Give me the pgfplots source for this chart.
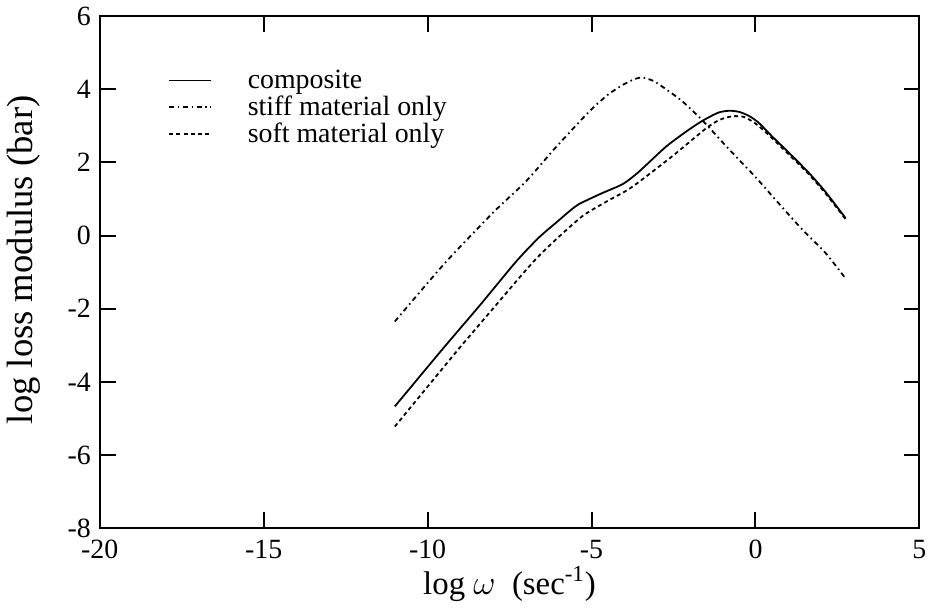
\documentclass[border=0pt]{standalone}
\usepackage{fontspec}
\setmainfont{Liberation Serif}
\usepackage{pgfplots}
\pgfplotsset{compat=1.18}
\begin{document}
\begin{tikzpicture}
  \begin{axis}[
    scale only axis,
    width=412pt, height=257.5pt,
    xmin=-20, xmax=5, ymin=-8, ymax=6,
    xtick={-20,-15,-10,-5,0,5},
    xticklabels={-20,-15,-10,-5,0,5},
    ytick={-8,-6,-4,-2,0,2,4,6},
    yticklabels={-8,-6,-4,-2,0,2,4,6},
    tick align=inside,
    major tick length=8pt,
    tick style={line width=1pt, black},
    axis line style={line width=1pt},
    ticklabel style={font=\fontsize{14}{16}\selectfont},
    xticklabel style={yshift=-2.5pt},
    yticklabel style={xshift=-1pt},
    xlabel={log \(\omega\)\ \ (sec\textsuperscript{-1})},
    ylabel={log loss modulus (bar)},
    xlabel style={font=\fontsize{16.5}{18}\selectfont, yshift=3pt},
    ylabel style={font=\fontsize{18.4}{20}\selectfont, yshift=7pt,
      at={(ticklabel cs:0.524)}},
    legend style={at={(axis cs:-18.1,4.66)}, anchor=north west, draw=none, fill=none,
      font=\fontsize{14}{15}\selectfont, row sep=1.8pt,
      nodes={inner ysep=0.2pt},
      /tikz/every odd column/.append style={column sep=16pt}},
    legend cell align=left,
    legend image code/.code={\draw[#1] (0pt,0pt) -- (21pt,0pt);},
  ]
    % composite
    \addplot[black, line width=0.9pt, smooth, tension=0.4] coordinates {
      (-11,-4.67) (-9.56,-3.12) (-8.4,-1.9) (-7.3,-0.71) (-6.6,-0.05)
      (-6.07,0.36) (-5.68,0.66) (-5.38,0.86) (-4.7,1.15) (-4.04,1.41)
      (-3.56,1.74) (-2.74,2.42) (-2.1,2.85) (-1.61,3.14) (-1.13,3.36)
      (-0.8,3.41) (-0.5,3.38) (-0.2,3.27) (0.1,3.08) (0.54,2.68)
      (0.99,2.29) (1.6,1.74) (2.12,1.21) (2.66,0.58) (2.75,0.47)
    };
    \addlegendentry{composite}
    % stiff material only
    \addplot[black, line width=0.9pt, smooth, tension=0.4, dash pattern=on 2.5pt off 1.8pt on 0.8pt off 1.8pt] coordinates {
      (-11,-2.35) (-9.5,-0.78) (-8,0.63) (-7,1.48) (-6.1,2.4)
      (-5.07,3.39) (-4.5,3.85) (-4.04,4.12) (-3.7,4.27) (-3.45,4.32)
      (-3.1,4.22) (-2.7,3.98) (-2.22,3.66) (-1.61,3.14) (-0.82,2.37)
      (0,1.6) (0.54,1.05) (1.42,0.17) (2.12,-0.46) (2.66,-1.07) (2.75,-1.2)
    };
    \addlegendentry{stiff material only}
    % soft material only
    \addplot[black, line width=0.9pt, smooth, tension=0.4, dash pattern=on 2pt off 1.6pt] coordinates {
      (-11,-5.22) (-9.1,-3.15) (-8.56,-2.58) (-7.2,-1.15) (-6.6,-0.55)
      (-5.98,-0.02) (-5.25,0.55) (-4.56,0.92) (-3.95,1.22) (-3.56,1.46)
      (-2.52,2.18) (-1.52,2.92) (-1.1,3.16) (-0.7,3.26) (-0.35,3.24)
      (0,3.06) (0.39,2.76) (0.99,2.24) (1.6,1.7) (2.12,1.17)
      (2.66,0.55) (2.75,0.44)
    };
    \addlegendentry{soft material only}
  \end{axis}
\end{tikzpicture}
\end{document}
